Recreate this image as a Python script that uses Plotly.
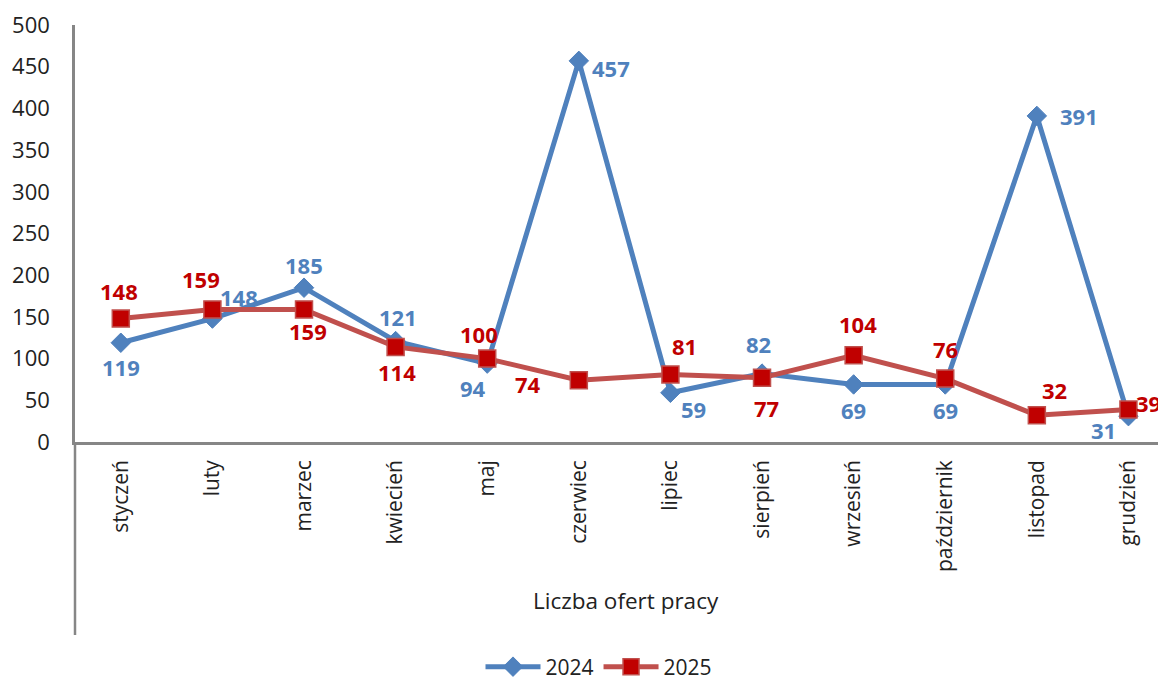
import plotly.graph_objects as go

months = ["styczeń", "luty", "marzec", "kwiecień", "maj", "czerwiec", "lipiec",
          "sierpień", "wrzesień", "październik", "listopad", "grudzień"]
v2024 = [119, 148, 185, 121, 94, 457, 59, 82, 69, 69, 391, 31]
v2025 = [148, 159, 159, 114, 100, 74, 81, 77, 104, 76, 32, 39]

# label offsets (px) per point
off2024 = [(0, -24), (27, 22), (0, 23), (2, 24), (-14, -24), (32, -7), (23, -16),
           (-4, 30), (0, -26), (0, -26), (42, 0), (-25, -14)]
off2025 = [(-2, 28), (-11, 30), (4, -22), (1, -25), (-8, 25), (-51, -4), (14, 28),
           (4, -30), (4, 31), (0, 30), (18, 25), (20, 6)]

BLUE = "#4F81BD"
RED_LINE = "#C0504D"
RED = "#C00000"
FONT = "Open Sans"
TXT = "#222222"

# page body has an 8px margin; compensate so the plot sits where the reference has it
PAD = 8
PL, PT, PR, PB = 75, 25, 1166, 442  # plot area in page pixels
W, H = 1166 - PAD, 683 - PAD
PH = PB - PT
PW = PR - PL


def py(page_y):
    return -(page_y - PB) / PH


def px(page_x):
    return (page_x - PL) / PW


fig = go.Figure()
fig.add_trace(go.Scatter(
    x=months, y=v2024, name="2024", mode="lines+markers",
    line=dict(color=BLUE, width=5),
    marker=dict(symbol="diamond", size=15, color=BLUE, line=dict(color=BLUE, width=1)),
))
fig.add_trace(go.Scatter(
    x=months, y=v2025, name="2025", mode="lines+markers",
    line=dict(color=RED_LINE, width=5),
    marker=dict(symbol="square", size=17, color=RED, line=dict(color=RED_LINE, width=1.5)),
))

ann = []
for m, v, (dx, dy) in zip(months, v2024, off2024):
    ann.append(dict(x=m, y=v, text=str(v), showarrow=False, xshift=dx, yshift=dy,
                    font=dict(family=FONT, size=22, color=BLUE, weight="bold")))
for m, v, (dx, dy) in zip(months, v2025, off2025):
    ann.append(dict(x=m, y=v, text=str(v), showarrow=False, xshift=dx, yshift=dy,
                    font=dict(family=FONT, size=22, color=RED, weight="bold")))
ann.append(dict(x=px(626), y=py(618), xref="paper", yref="paper",
                text="Liczba ofert pracy", showarrow=False,
                font=dict(family=FONT, size=22.5, color=TXT)))

fig.update_layout(
    width=W, height=H,
    margin=dict(l=PL - PAD, r=0, t=PT - PAD, b=H - (PB - PAD), autoexpand=False),
    plot_bgcolor="white", paper_bgcolor="white",
    font=dict(family=FONT, size=21, color=TXT),
    showlegend=True,
    legend=dict(orientation="h", x=px(599), xanchor="center", y=py(667),
                yanchor="middle", font=dict(family=FONT, size=21, color=TXT),
                itemwidth=55),
    annotations=ann,
    shapes=[dict(type="line", xref="paper", yref="paper", x0=0, x1=0,
                 y0=py(635), y1=0, line=dict(color="#868686", width=2.5))],
)
fig.update_xaxes(
    type="category", range=[-0.5, 11.41], tickangle=-90, showgrid=False,
    showline=True, linecolor="#868686", linewidth=2.5, ticks="",
    tickfont=dict(family=FONT, size=21, color=TXT), ticklabelstandoff=7,
)
fig.update_yaxes(
    range=[0, 500], dtick=50, showgrid=False, zeroline=False,
    showline=True, linecolor="#868686", linewidth=2.5, ticks="",
    tickfont=dict(family=FONT, size=22, color=TXT), ticklabelstandoff=18,
)

fig.write_html("out.html")
